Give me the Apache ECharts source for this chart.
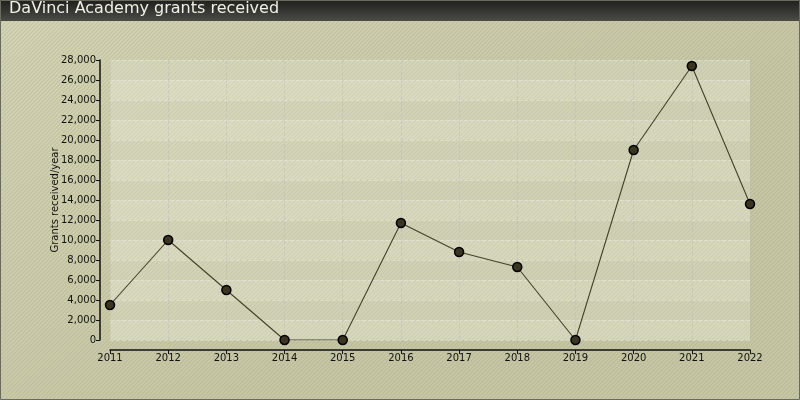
<!DOCTYPE html>
<html><head><meta charset="utf-8">
<script src="https://cdn.jsdelivr.net/npm/echarts@6/dist/echarts.min.js"></script>
<style>html,body{margin:0;padding:0;}#c{width:800px;height:400px;}</style>
</head><body><div id="c"></div>
<script>
var years = ['2011','2012','2013','2014','2015','2016','2017','2018','2019','2020','2021','2022'];
var grants = [3500, 10000, 5000, 0, 0, 11700, 8800, 7300, 0, 19000, 27400, 13600];
var titleText = 'DaVinci Academy grants received';
var yAxisName = 'Grants received/year';

function hatch(line) {
  var n = 4;
  var c = document.createElement('canvas');
  c.width = n; c.height = n;
  var g = c.getContext('2d');
  g.strokeStyle = line; g.lineWidth = 1.2;
  g.beginPath();
  g.moveTo(-1, n+1); g.lineTo(n+1, -1);
  g.moveTo(-1, 1); g.lineTo(1, -1);
  g.moveTo(n-1, n+1); g.lineTo(n+1, n-1);
  g.stroke();
  return c;
}

var chart = echarts.init(document.getElementById('c'), null, {renderer:'canvas'});
chart.setOption({
  backgroundColor: {
    type: 'linear', x:0, y:0, x2:0.3, y2:1,
    colorStops: [{offset:0, color:'#d6d6b8'},{offset:1, color:'#c8c8a8'}]
  },
  animation: false,
  graphic: [
    {type:'rect', left:0, top:0, z:-1, silent:true,
     shape:{width:800, height:400},
     style:{fill:{image: hatch('rgba(150,150,105,0.28)'), repeat:'repeat'}}},
    {type:'rect', left:0, top:0, silent:true, shape:{width:800, height:21},
     style:{fill:{type:'linear', x:0,y:0,x2:0,y2:1, colorStops:[{offset:0,color:'#1f1f1d'},{offset:1,color:'#4b4b47'}]}}},
    {type:'text', left:9, top:1, silent:true,
     style:{text:titleText, fill:'#f0f0e6', font:'16px "DejaVu Sans"'}},
    {type:'rect', silent:true, z:100,
     shape:{x:0.5, y:0.5, width:799, height:399},
     style:{fill:null, stroke:'#6a6a5e', lineWidth:1}}
  ],
  grid: {left:110, right:50, top:60, bottom:60, show:true, backgroundColor:'rgba(235,238,220,0.3)', borderWidth:0},
  xAxis: {
    type:'category', data: years, boundaryGap:false, offset:10,
    axisLine:{onZero:false, lineStyle:{color:'#111', width:1.5}},
    axisTick:{alignWithLabel:true, length:4, lineStyle:{color:'#111'}},
    axisLabel:{color:'#111', fontSize:10, fontFamily:'DejaVu Sans', margin:3},
    splitLine:{show:true, lineStyle:{color:'rgba(180,180,195,0.4)', type:'dashed'}}
  },
  yAxis: {
    type:'value', min:0, max:28000, interval:2000, offset:10,
    name: yAxisName, nameLocation:'middle', nameGap:40, nameRotate:90, nameMoveOverlap:false,
    nameTextStyle:{color:'#111', fontSize:10, fontFamily:'DejaVu Sans'},
    axisLine:{show:true, onZero:false, lineStyle:{color:'#111', width:1.5}},
    axisTick:{show:true, length:4, lineStyle:{color:'#111'}},
    axisLabel:{color:'#111', fontSize:10, fontFamily:'DejaVu Sans', margin:4,
      formatter:function(v){return v.toLocaleString('en-US');}},
    splitLine:{show:true, lineStyle:{color:'rgba(235,235,228,0.5)', type:'dashed'}},
    splitArea:{show:true, areaStyle:{color:['rgba(240,242,228,0.15)','rgba(190,190,165,0.08)']}}
  },
  series: [{
    type:'line', data: grants,
    symbol:'circle', symbolSize:9,
    lineStyle:{color:'#45402a', width:1.1},
    itemStyle:{color:'#3b3520', borderColor:'#000', borderWidth:1.5}
  }]
});
</script></body></html>
